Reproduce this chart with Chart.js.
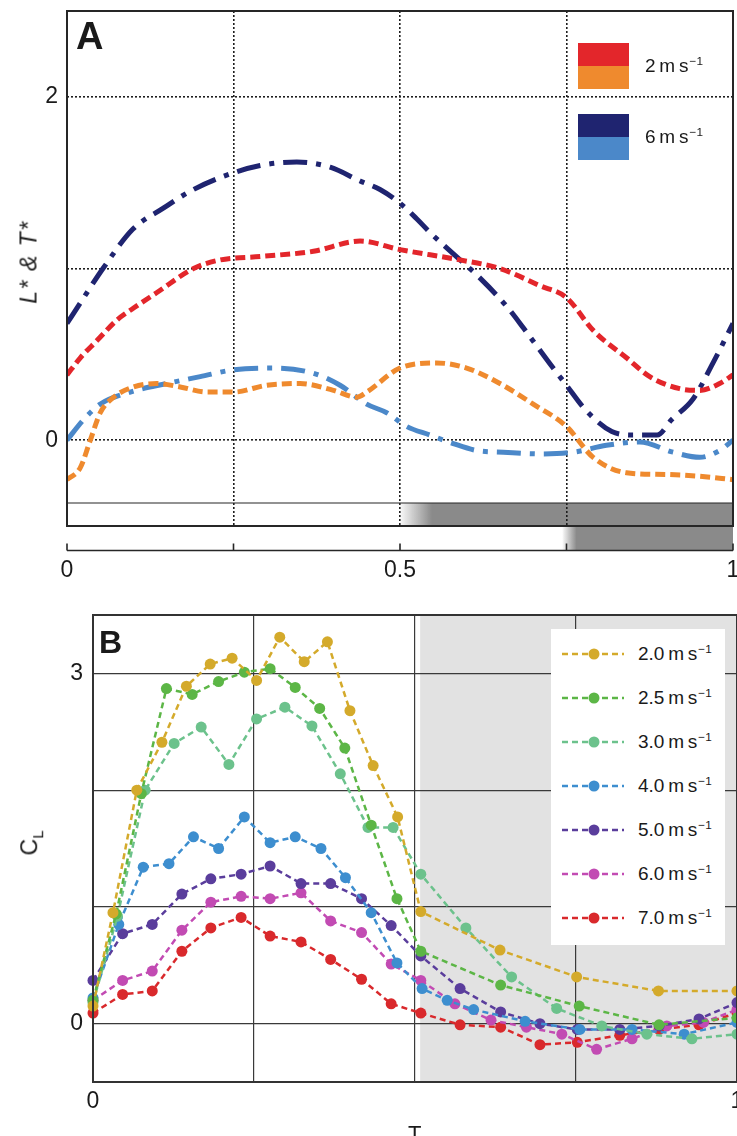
<!DOCTYPE html>
<html>
<head>
<meta charset="utf-8">
<script src="https://cdn.jsdelivr.net/npm/chart.js@4/dist/chart.umd.min.js"></script>
<style>
  html, body { margin: 0; padding: 0; background: #fff; }
  body { position: relative; width: 737px; height: 1136px; overflow: hidden;
         font-family: 'Liberation Sans', Arial, Helvetica, sans-serif; color: #1a1a1a; }
  .abs { position: absolute; }
  .panel-letter { position: absolute; font-weight: bold; line-height: 1; }
  .unit sup { font-size: 0.62em; vertical-align: 0.62em; line-height: 0; margin-left: 1px; }
  .swatch { position: absolute; }
  .legA-text, .legB-text { position: absolute; font-size: 19px; line-height: 1; white-space: nowrap; }
  #legendB { position: absolute; left: 551px; top: 629px; width: 174px; height: 316px; background: #fff; }
  .ytitle { position: absolute; white-space: nowrap; transform: translate(-50%, -50%) rotate(-90deg); }
</style>
</head>
<body>
<div class="abs" style="left:0;top:0;"><canvas id="chartA" width="745" height="590"></canvas></div>
<div class="abs" style="left:0;top:590px;"><canvas id="chartB" width="745" height="546"></canvas></div>

<div class="panel-letter" style="left:76px;top:17px;font-size:38px;">A</div>
<div class="panel-letter" style="left:99px;top:626px;font-size:32px;">B</div>

<div class="ytitle" style="left:29px;top:262px;font-size:23px;font-style:italic;letter-spacing:1.5px;">L* &amp; T*</div>
<div class="ytitle" style="left:31px;top:843px;font-size:23px;">C<sub style="font-size:0.65em;">L</sub></div>
<div class="abs" style="left:408px;top:1123px;font-size:22px;line-height:1;">T</div>

<div id="legendA"></div>
<div id="legendB"></div>

<script>
const FONT = "'Liberation Sans', Arial, Helvetica, sans-serif";
Chart.defaults.font.family = FONT;
Chart.defaults.color = '#1a1a1a';

// ---------- Panel A: L* and T* through one stroke cycle ----------
const aTickX = [0, 0.25, 0.5, 0.75, 1];
const aTickLabelsX = ['0', '', '0.5', '', '1'];
const aTickY = [0, 1, 2];
const aTickLabelsY = ['0', '', '2'];

// 2 m s-1, L*
const lift2X = [0, 0.02, 0.045, 0.075, 0.1, 0.135, 0.19, 0.23, 0.29, 0.37, 0.44, 0.5, 0.59, 0.65, 0.71, 0.75, 0.79, 0.84, 0.875, 0.92, 0.95, 0.98, 1.0];
const lift2Y = [0.38, 0.48, 0.58, 0.70, 0.77, 0.86, 1.0, 1.05, 1.07, 1.10, 1.16, 1.11, 1.05, 1.0, 0.90, 0.83, 0.64, 0.48, 0.37, 0.30, 0.29, 0.33, 0.38];
// 2 m s-1, T*
const thrust2X = [0, 0.02, 0.035, 0.05, 0.07, 0.1, 0.135, 0.17, 0.21, 0.25, 0.3, 0.35, 0.4, 0.435, 0.45, 0.5, 0.555, 0.6, 0.65, 0.7, 0.75, 0.79, 0.84, 0.9, 0.95, 1.0];
const thrust2Y = [-0.23, -0.16, 0.0, 0.16, 0.25, 0.31, 0.33, 0.31, 0.28, 0.28, 0.32, 0.33, 0.29, 0.25, 0.28, 0.42, 0.45, 0.42, 0.33, 0.21, 0.08, -0.10, -0.19, -0.20, -0.21, -0.23];
// 6 m s-1, L*
const lift6X = [0, 0.02, 0.054, 0.099, 0.144, 0.185, 0.23, 0.29, 0.345, 0.395, 0.44, 0.47, 0.5, 0.525, 0.545, 0.596, 0.616, 0.66, 0.686, 0.73, 0.748, 0.78, 0.818, 0.85, 0.886, 0.908, 0.94, 0.97, 1.0];
const lift6Y = [0.68, 0.80, 1.0, 1.23, 1.35, 1.45, 1.53, 1.60, 1.62, 1.59, 1.51, 1.46, 1.38, 1.29, 1.21, 1.03, 0.96, 0.78, 0.65, 0.42, 0.33, 0.17, 0.05, 0.03, 0.03, 0.12, 0.24, 0.45, 0.68];
// 6 m s-1, T*
const thrust6X = [0, 0.025, 0.05, 0.095, 0.15, 0.2, 0.25, 0.31, 0.37, 0.41, 0.45, 0.48, 0.51, 0.545, 0.58, 0.615, 0.655, 0.71, 0.76, 0.81, 0.86, 0.91, 0.95, 0.98, 1.0];
const thrust6Y = [0, 0.12, 0.21, 0.28, 0.33, 0.37, 0.41, 0.42, 0.39, 0.32, 0.21, 0.16, 0.08, 0.03, -0.02, -0.06, -0.07, -0.08, -0.07, -0.03, -0.01, -0.07, -0.10, -0.06, 0.0];

const colLift2 = '#e3262b', colThrust2 = '#ef8a2e', colLift6 = '#1f2470', colThrust6 = '#4b88c9';

// stroke-phase bars under the curves (phase ranges)
const aBarUpper = [0.5, 1];
const aBarLower = [0.75, 1];
const aStripTop = -0.366;   // value of the divider above the upper bar

// ---------- Panel B: C_L per flight speed ----------
const bTickX = [0, 0.25, 0.5, 0.75, 1];
const bTickLabelsX = ['0', '', '', '', '1'];
const bTickY = [0, 1, 2, 3];
const bTickLabelsY = ['0', '', '', '3'];
const bShade = [0.508, 1];

const bSpeeds = ['2.0', '2.5', '3.0', '4.0', '5.0', '6.0', '7.0'];
const bColors = ['#d4aa2b', '#5cb646', '#6cc28c', '#3d8ecf', '#5a3d9c', '#c24bb3', '#d9292c'];

const b20X = [0, 0.031, 0.068, 0.107, 0.145, 0.182, 0.216, 0.254, 0.290, 0.328, 0.364, 0.399, 0.435, 0.473, 0.509, 0.632, 0.751, 0.878, 1.0];
const b20Y = [0.15, 0.95, 2.0, 2.41, 2.89, 3.08, 3.13, 2.94, 3.31, 3.10, 3.27, 2.68, 2.21, 1.77, 0.96, 0.63, 0.40, 0.28, 0.28];
const b25X = [0, 0.036, 0.075, 0.114, 0.154, 0.195, 0.235, 0.275, 0.314, 0.352, 0.391, 0.432, 0.472, 0.509, 0.633, 0.755, 0.879, 1.0];
const b25Y = [0.2, 0.94, 1.97, 2.87, 2.82, 2.93, 3.01, 3.04, 2.88, 2.70, 2.36, 1.70, 1.07, 0.62, 0.33, 0.15, -0.01, 0.05];
const b30X = [0, 0.038, 0.081, 0.126, 0.168, 0.211, 0.254, 0.298, 0.340, 0.384, 0.427, 0.466, 0.509, 0.579, 0.650, 0.720, 0.790, 0.860, 0.930, 1.0];
const b30Y = [0.18, 0.92, 2.0, 2.40, 2.54, 2.22, 2.61, 2.71, 2.55, 2.14, 1.68, 1.68, 1.28, 0.82, 0.40, 0.13, -0.02, -0.09, -0.13, -0.09];
const b40X = [0, 0.040, 0.078, 0.118, 0.156, 0.195, 0.235, 0.275, 0.314, 0.354, 0.392, 0.432, 0.472, 0.511, 0.550, 0.591, 0.671, 0.756, 0.837, 0.918, 1.0];
const b40Y = [0.22, 0.85, 1.34, 1.37, 1.60, 1.50, 1.77, 1.55, 1.60, 1.50, 1.25, 0.95, 0.52, 0.30, 0.20, 0.12, 0.02, -0.05, -0.05, -0.09, 0.01];
const b50X = [0, 0.046, 0.092, 0.138, 0.183, 0.23, 0.275, 0.323, 0.369, 0.417, 0.463, 0.509, 0.570, 0.633, 0.694, 0.752, 0.818, 0.879, 0.941, 1.0];
const b50Y = [0.37, 0.77, 0.85, 1.11, 1.24, 1.28, 1.35, 1.20, 1.20, 1.07, 0.84, 0.58, 0.30, 0.10, 0.0, -0.05, -0.05, -0.02, 0.04, 0.18];
const b60X = [0, 0.046, 0.092, 0.138, 0.183, 0.23, 0.275, 0.323, 0.369, 0.417, 0.463, 0.509, 0.562, 0.618, 0.673, 0.728, 0.782, 0.837, 0.891, 0.948, 1.0];
const b60Y = [0.2, 0.37, 0.45, 0.80, 1.04, 1.09, 1.07, 1.12, 0.88, 0.78, 0.51, 0.37, 0.17, 0.03, -0.03, -0.09, -0.22, -0.13, -0.02, 0.01, 0.12];
const b70X = [0, 0.046, 0.092, 0.138, 0.183, 0.23, 0.275, 0.323, 0.369, 0.417, 0.463, 0.509, 0.570, 0.633, 0.694, 0.752, 0.818, 0.879, 0.941, 1.0];
const b70Y = [0.09, 0.25, 0.28, 0.62, 0.82, 0.91, 0.75, 0.70, 0.55, 0.38, 0.17, 0.09, -0.01, -0.03, -0.18, -0.16, -0.10, -0.05, -0.01, 0.09];

const bSeriesX = [b20X, b25X, b30X, b40X, b50X, b60X, b70X];
const bSeriesY = [b20Y, b25Y, b30Y, b40Y, b50Y, b60Y, b70Y];

// ---------- helpers ----------
const pts = (xs, ys) => xs.map((x, i) => ({ x, y: ys[i] }));
const unitHTML = v => `${v}&#8201;m&#8201;s<sup>&minus;1</sup>`;
const tickFont = { size: 23, family: FONT };

// keep the plot rectangle fixed: scales reserve no extra edge padding for labels
const noPadX = h => s => { s.height = h; s.paddingLeft = 0; s.paddingRight = 0; };
const noPadY = w => s => { s.width = w; s.paddingTop = 0; s.paddingBottom = 0; };

function fadedBar(ctx, xl, xr, yt, yb, fade) {
  const g = ctx.createLinearGradient(xl, 0, xl + fade, 0);
  g.addColorStop(0, 'rgba(138,138,138,0.05)');
  g.addColorStop(1, 'rgb(138,138,138)');
  ctx.fillStyle = g;
  ctx.fillRect(xl, yt, xr - xl, yb - yt);
}

// ---------- Panel A chart ----------
const panelADecor = {
  id: 'panelADecor',
  beforeDraw(chart) {
    const { ctx, chartArea: a, scales: { x, y } } = chart;
    ctx.save();
    const sepY = y.getPixelForValue(aStripTop);
    fadedBar(ctx, x.getPixelForValue(aBarUpper[0]), x.getPixelForValue(aBarUpper[1]), sepY, a.bottom, 32);
    fadedBar(ctx, x.getPixelForValue(aBarLower[0]) - 4, x.getPixelForValue(aBarLower[1]), a.bottom, a.bottom + 24.5, 14);
    ctx.restore();
  },
  afterDraw(chart) {
    const { ctx, chartArea: a, scales: { x, y } } = chart;
    ctx.save();
    ctx.strokeStyle = '#262626';
    ctx.lineWidth = 2;
    ctx.strokeRect(a.left, a.top, a.right - a.left, a.bottom - a.top);
    // divider above the stroke bar
    const sepY = y.getPixelForValue(aStripTop);
    ctx.lineWidth = 1.2;
    ctx.beginPath(); ctx.moveTo(a.left, sepY); ctx.lineTo(a.right, sepY); ctx.stroke();
    // secondary phase axis below the plot
    const ay = a.bottom + 24.5;
    ctx.lineWidth = 1.6;
    ctx.beginPath(); ctx.moveTo(a.left, ay); ctx.lineTo(a.right, ay);
    aTickX.forEach(v => { const px = x.getPixelForValue(v); ctx.moveTo(px, ay); ctx.lineTo(px, ay - 7); });
    ctx.stroke();
    ctx.restore();
  }
};

const lineA = (label, xs, ys, color, dash) => ({
  label, data: pts(xs, ys), borderColor: color, backgroundColor: color,
  borderWidth: 5, borderDash: dash, pointRadius: 0, fill: false,
  cubicInterpolationMode: 'monotone', borderCapStyle: 'butt'
});

new Chart(document.getElementById('chartA'), {
  type: 'line',
  data: {
    datasets: [
      lineA('L* 2 m s-1', lift2X, lift2Y, colLift2, [10, 5]),
      lineA('T* 2 m s-1', thrust2X, thrust2Y, colThrust2, [10, 5]),
      lineA('L* 6 m s-1', lift6X, lift6Y, colLift6, [24, 9, 5, 9]),
      lineA('T* 6 m s-1', thrust6X, thrust6Y, colThrust6, [24, 9, 5, 9])
    ]
  },
  options: {
    responsive: false, animation: false, devicePixelRatio: 1,
    layout: { padding: { left: 0, top: 11, right: 12, bottom: 0 } },
    plugins: { legend: { display: false }, tooltip: { enabled: false } },
    scales: {
      x: {
        type: 'linear', min: 0, max: 1,
        afterBuildTicks: s => { s.ticks = aTickX.map(v => ({ value: v })); },
        afterFit: noPadX(64),
        ticks: { font: tickFont, color: '#1a1a1a', padding: 31, maxRotation: 0, autoSkip: false,
                 callback: v => aTickLabelsX[aTickX.indexOf(v)] ?? '' },
        grid: { drawTicks: false, lineWidth: 1.6,
                color: c => (c.tick && (c.tick.value === 0 || c.tick.value === 1)) ? 'rgba(0,0,0,0)' : '#1e1e1e' },
        border: { display: false, dash: [2, 2] }
      },
      y: {
        type: 'linear', min: -0.5, max: 2.5,
        afterBuildTicks: s => { s.ticks = aTickY.map(v => ({ value: v })); },
        afterFit: noPadY(67),
        ticks: { font: tickFont, color: '#1a1a1a', padding: 9,
                 callback: v => aTickLabelsY[aTickY.indexOf(v)] ?? '' },
        grid: { drawTicks: false, lineWidth: 1.6, color: '#1e1e1e' },
        border: { display: false, dash: [2, 2] }
      }
    }
  },
  plugins: [panelADecor]
});

// ---------- Panel B chart ----------
const panelBDecor = {
  id: 'panelBDecor',
  beforeDraw(chart) {
    const { ctx, chartArea: a, scales: { x } } = chart;
    ctx.save();
    ctx.fillStyle = '#e2e2e2';
    const xl = x.getPixelForValue(bShade[0]);
    ctx.fillRect(xl, a.top, x.getPixelForValue(bShade[1]) - xl, a.bottom - a.top);
    ctx.restore();
  },
  afterDraw(chart) {
    const { ctx, chartArea: a } = chart;
    ctx.save();
    ctx.strokeStyle = '#333';
    ctx.lineWidth = 2;
    ctx.strokeRect(a.left, a.top, a.right - a.left, a.bottom - a.top);
    ctx.restore();
  }
};

new Chart(document.getElementById('chartB'), {
  type: 'line',
  data: {
    datasets: bSpeeds.map((s, i) => ({
      label: s + ' m s-1', data: pts(bSeriesX[i], bSeriesY[i]),
      borderColor: bColors[i], backgroundColor: bColors[i],
      pointBackgroundColor: bColors[i], pointBorderColor: bColors[i],
      borderWidth: 2.5, borderDash: [6, 4], tension: 0,
      pointRadius: 5.5, pointBorderWidth: 0, fill: false, clip: false
    }))
  },
  options: {
    responsive: false, animation: false, devicePixelRatio: 1,
    layout: { padding: { left: 0, top: 25, right: 8, bottom: 0 } },
    plugins: { legend: { display: false }, tooltip: { enabled: false } },
    scales: {
      x: {
        type: 'linear', min: 0, max: 1,
        afterBuildTicks: s => { s.ticks = bTickX.map(v => ({ value: v })); },
        afterFit: noPadX(54),
        ticks: { font: tickFont, color: '#1a1a1a', padding: 6, maxRotation: 0, autoSkip: false,
                 callback: v => bTickLabelsX[bTickX.indexOf(v)] ?? '' },
        grid: { drawTicks: false, lineWidth: 1.2,
                color: c => (c.tick && (c.tick.value === 0 || c.tick.value === 1)) ? 'rgba(0,0,0,0)' : '#3a3a3a' },
        border: { display: false }
      },
      y: {
        type: 'linear', min: -0.5, max: 3.5,
        afterBuildTicks: s => { s.ticks = bTickY.map(v => ({ value: v })); },
        afterFit: noPadY(93),
        ticks: { font: tickFont, color: '#1a1a1a', padding: 10,
                 callback: v => bTickLabelsY[bTickY.indexOf(v)] ?? '' },
        grid: { drawTicks: false, lineWidth: 1.2, color: '#3a3a3a' },
        border: { display: false }
      }
    }
  },
  plugins: [panelBDecor]
});

// ---------- legends ----------
const legendA = [
  { speed: '2', colors: [colLift2, colThrust2], top: 43 },
  { speed: '6', colors: [colLift6, colThrust6], top: 114 }
];
const legA = document.getElementById('legendA');
legendA.forEach(e => {
  e.colors.forEach((c, k) => {
    const d = document.createElement('div');
    d.className = 'swatch';
    Object.assign(d.style, { left: '578px', top: (e.top + k * 23) + 'px', width: '51px', height: '23px', background: c });
    legA.appendChild(d);
  });
  const t = document.createElement('div');
  t.className = 'legA-text unit';
  Object.assign(t.style, { left: '645px', top: (e.top + 13) + 'px' });
  t.innerHTML = unitHTML(e.speed);
  legA.appendChild(t);
});

const legB = document.getElementById('legendB');
bSpeeds.forEach((s, i) => {
  const cy = 25 + i * 44;
  const svgNS = 'http://www.w3.org/2000/svg';
  const svg = document.createElementNS(svgNS, 'svg');
  svg.setAttribute('width', '64'); svg.setAttribute('height', '14');
  Object.assign(svg.style, { position: 'absolute', left: '11px', top: (cy - 7) + 'px' });
  const ln = document.createElementNS(svgNS, 'line');
  ln.setAttribute('x1', '0'); ln.setAttribute('y1', '7'); ln.setAttribute('x2', '62'); ln.setAttribute('y2', '7');
  ln.setAttribute('stroke', bColors[i]); ln.setAttribute('stroke-width', '2.5'); ln.setAttribute('stroke-dasharray', '6 4');
  const dot = document.createElementNS(svgNS, 'circle');
  dot.setAttribute('cx', '32'); dot.setAttribute('cy', '7'); dot.setAttribute('r', '5.5'); dot.setAttribute('fill', bColors[i]);
  svg.appendChild(ln); svg.appendChild(dot);
  legB.appendChild(svg);
  const t = document.createElement('div');
  t.className = 'legB-text unit';
  Object.assign(t.style, { left: '87px', top: (cy - 10) + 'px' });
  t.innerHTML = unitHTML(s);
  legB.appendChild(t);
});
</script>
</body>
</html>
